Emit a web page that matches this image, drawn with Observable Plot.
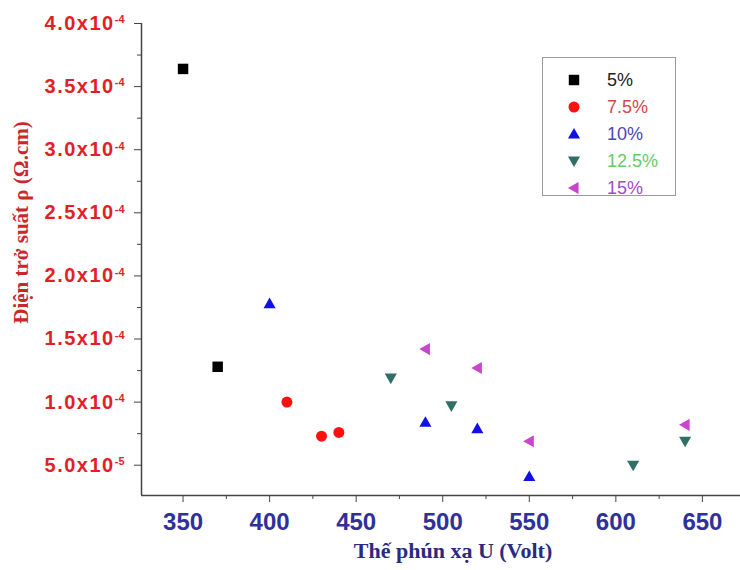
<!DOCTYPE html>
<html>
<head>
<meta charset="utf-8">
<script src="https://cdn.jsdelivr.net/npm/d3@7"></script>
<script src="https://cdn.jsdelivr.net/npm/@observablehq/plot@0.6"></script>
<style>
  html, body { margin: 0; padding: 0; background: #fff; }
  #wrap { position: relative; width: 740px; height: 570px; overflow: hidden; }
  #legend { position: absolute; left: 542px; top: 57px; width: 134px; height: 139px;
            border: 1px solid #9a9a9a; box-sizing: border-box; background: #fff; }
  #legend svg { position: absolute; left: 0; top: 0; }
</style>
</head>
<body>
<div id="wrap"><div id="legend"></div></div>
<script>
// ---- data ----
const seriesNames = ["5%", "7.5%", "10%", "12.5%", "15%"];
const u5   = [350, 370];
const rho5 = [3.64e-4, 1.28e-4];
const u75   = [410, 430, 440];
const rho75 = [1.00e-4, 7.3e-5, 7.6e-5];
const u10   = [400, 490, 520, 550];
const rho10 = [1.78e-4, 8.4e-5, 7.9e-5, 4.1e-5];
const u125   = [470, 505, 610, 640];
const rho125 = [1.19e-4, 9.7e-5, 5.0e-5, 6.9e-5];
const u15   = [490, 520, 550, 640];
const rho15 = [1.42e-4, 1.27e-4, 6.9e-5, 8.2e-5];

const xTicks = [350, 400, 450, 500, 550, 600, 650];
const xMinorTicks = [375, 425, 475, 525, 575, 625];
const yTicks = [5e-5, 1.0e-4, 1.5e-4, 2.0e-4, 2.5e-4, 3.0e-4, 3.5e-4, 4.0e-4];
const yMinorTicks = [7.5e-5, 1.25e-4, 1.75e-4, 2.25e-4, 2.75e-4, 3.25e-4, 3.75e-4];
const xDomain = [326, 672];
const yDomain = [2.6e-5, 4.0e-4];

const xTitle = "Thế phún xạ U (Volt)";
const yTitle = "Điện trở suất ρ (Ω.cm)";

// ---- styles ----
const markerColors = ["#000000", "#ff1010", "#1010e8", "#2f6f66", "#cc44cc"];
const legendTextColors = ["#222222", "#d04848", "#4848b8", "#66cc66", "#a848c8"];

function rOf(size) { return Math.sqrt(size / Math.PI); }
const symSquare = { draw(c, size) { const s = rOf(size) * 0.95; c.rect(-s, -s, 2 * s, 2 * s); } };
const symCircle = { draw(c, size) { const r = rOf(size); c.moveTo(r, 0); c.arc(0, 0, r, 0, 2 * Math.PI); } };
const symUp = { draw(c, size) { const r = rOf(size) * 1.1; c.moveTo(0, -r); c.lineTo(r, r * 0.75); c.lineTo(-r, r * 0.75); c.closePath(); } };
const symDown = { draw(c, size) { const r = rOf(size) * 1.1; c.moveTo(0, r); c.lineTo(r, -r * 0.75); c.lineTo(-r, -r * 0.75); c.closePath(); } };
const symLeft = { draw(c, size) { const r = rOf(size) * 1.1; c.moveTo(-r, 0); c.lineTo(r * 0.75, -r); c.lineTo(r * 0.75, r); c.closePath(); } };
const symbols = [symSquare, symCircle, symUp, symDown, symLeft];

// ---- table built from the arrays ----
const groups = [[u5, rho5], [u75, rho75], [u10, rho10], [u125, rho125], [u15, rho15]];
const data = groups.flatMap(([us, rs], i) => us.map((u, j) => ({ series: seriesNames[i], u, rho: rs[j] })));

const yFormat = d => { const [m, e] = d.toExponential(1).split("e"); return m + "x10^" + (+e); };

const chart = Plot.plot({
  width: 740,
  height: 570,
  marginLeft: 141,
  marginRight: 0,
  marginTop: 23,
  marginBottom: 75,
  style: { background: "#fff", overflow: "visible" },
  x: { domain: xDomain },
  y: { domain: yDomain },
  symbol: { domain: seriesNames, range: symbols },
  color: { domain: seriesNames, range: markerColors },
  marks: [
    Plot.axisX({ ticks: xTicks, tickSize: 7, tickPadding: 10, stroke: "#444", fill: "#30309a",
                 fontSize: 24, fontWeight: "bold", fontFamily: "Liberation Sans, Arial, sans-serif", label: null }),
    Plot.axisX({ ticks: xMinorTicks, tickSize: 4, stroke: "#444", text: null, label: null }),
    Plot.axisY({ ticks: yTicks, tickSize: 7, tickPadding: 10, stroke: "#444", fill: "#e41e26",
                 tickFormat: yFormat, fontSize: 20, fontWeight: "bold",
                 fontFamily: "Liberation Sans, Arial, sans-serif", label: null }),
    Plot.axisY({ ticks: yMinorTicks, tickSize: 4, stroke: "#444", text: null, label: null }),
    Plot.ruleX([xDomain[0]], { stroke: "#444", strokeWidth: 1.5 }),
    Plot.ruleY([yDomain[0]], { stroke: "#444", strokeWidth: 1.5 }),
    Plot.text([yTitle], { frameAnchor: "left", textAnchor: "middle", rotate: -90, dx: -120, dy: -37, fill: "#c8282c",
                          fontSize: 21, fontWeight: "bold", fontFamily: "Liberation Serif, Times New Roman, serif" }),
    Plot.text([xTitle], { frameAnchor: "bottom", dx: 12, dy: 62, fill: "#2a2a80",
                          fontSize: 22, fontWeight: "bold", fontFamily: "Liberation Serif, Times New Roman, serif" }),
    Plot.dot(data, { x: "u", y: "rho", symbol: "series", fill: "series", r: 5.5 })
  ]
});

// superscript exponents on y tick labels
d3.select(chart).selectAll('g[aria-label="y-axis tick label"] text').each(function () {
  const t = this.textContent;
  if (!t.includes("^")) return;
  const [base, exp] = t.split("^");
  const sel = d3.select(this);
  sel.text(base).style("letter-spacing", "1.5px");
  sel.append("tspan").attr("dy", "-0.6em").attr("font-size", 11).style("letter-spacing", "0px").text(exp);
});

document.getElementById("wrap").prepend(chart);

// legend (HTML overlay drawn with d3)
const lg = d3.select("#legend").append("svg").attr("width", 134).attr("height", 139);
seriesNames.forEach((name, i) => {
  const yy = 22 + i * 27;
  lg.append("path")
    .attr("transform", `translate(31,${yy})`)
    .attr("d", d3.symbol(symbols[i], 5.5 * 5.5 * Math.PI)())
    .attr("fill", markerColors[i]);
  lg.append("text")
    .attr("x", 64).attr("y", yy).attr("dy", "0.36em")
    .attr("font-family", "Liberation Sans, Arial, sans-serif")
    .attr("font-size", 18)
    .attr("fill", legendTextColors[i])
    .text(name);
});
</script>
</body>
</html>
